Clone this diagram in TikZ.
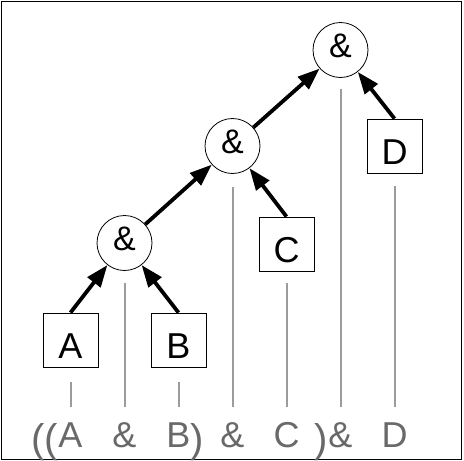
\documentclass[tikz,border=0pt]{standalone}
\usepackage{fontspec}
\setmainfont{Liberation Sans}
\usetikzlibrary{positioning,arrows.meta}
\definecolor{termgray}{RGB}{105,105,105}
\definecolor{rulegray}{RGB}{155,155,155}

\begin{document}
\begin{tikzpicture}[x=1pt, y=-1pt,
      op/.style={draw, circle, line width=0.8pt, minimum size=55pt, inner sep=0pt,
                 text height=15pt, text depth=0pt, font=\fontsize{34pt}{38pt}\selectfont},
      leaf/.style={draw, line width=0.8pt, minimum width=55pt, minimum height=54pt,
                   inner sep=0pt, text height=36pt, text depth=0pt,
                   font=\fontsize{36pt}{40pt}\selectfont},
      arr/.style={-{Triangle[length=22pt, width=16pt]}, line width=3.8pt},
      guide/.style={rulegray, line width=2pt},
      term/.style={termgray, anchor=base, inner sep=0pt,
                   font=\fontsize{36pt}{40pt}\selectfont},
      paren/.style={term, font=\fontsize{40pt}{44pt}\selectfont, yshift=-5pt}]
    \useasboundingbox (0,0) rectangle (464,461);
    \draw[line width=1.3pt] (1.8,1.5) rectangle (461.8,459.3);

    % the tree
    \node[op] (and3) at (340.5,50) {\&};
    \node[op] (and2) at (232.5,146) {\&};
    \node[op] (and1) at (124.5,243) {\&};
    \node[leaf] (d) at (394.5,146) {D};
    \node[leaf] (c) at (286.5,244) {C};
    \node[leaf] (a) at (70.5,340) {A};
    \node[leaf] (b) at (178.5,340) {B};
    \draw[arr] (a.north) -- (and1);
    \draw[arr] (b.north) -- (and1);
    \draw[arr] (and1) -- (and2);
    \draw[arr] (c.north) -- (and2);
    \draw[arr] (and2) -- (and3);
    \draw[arr] (d.north) -- (and3);

    % the expression underneath
    \coordinate (bot) at (0,407);
    \node[term] (ta) at (70.5,447) {A};
    \node[term] (t1) at (124.5,447) {\&};
    \node[term] (tb) at (178.5,447) {B};
    \node[term] (t2) at (232.5,447) {\&};
    \node[term] (tc) at (286.5,447) {C};
    \node[term] (t3) at (340.5,447) {\&};
    \node[term] (td) at (394.5,447) {D};
    \node[paren, anchor=base east] (lpar) at (ta.base west) {((};
    \node[paren, anchor=base west] (rpar1) at (tb.base east) {)};
    \node[paren, anchor=base east] (rpar2) at ([xshift=-0.5pt]t3.base west) {)};

    \draw[guide] ([yshift=-15pt]a.south) -- (a |- bot);
    \draw[guide] ([yshift=-12pt]and1.south) -- (and1 |- bot);
    \draw[guide] ([yshift=-15pt]b.south) -- (b |- bot);
    \draw[guide] ([yshift=-13pt]and2.south) -- (and2 |- bot);
    \draw[guide] ([yshift=-12pt]c.south) -- (c |- bot);
    \draw[guide] ([yshift=-11pt]and3.south) -- (and3 |- bot);
    \draw[guide] ([yshift=-13pt]d.south) -- (d |- bot);
  \end{tikzpicture}
\end{document}
